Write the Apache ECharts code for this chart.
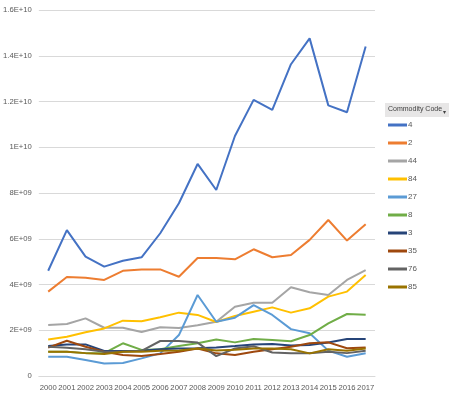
<!DOCTYPE html>
<html>
<head>
<meta charset="utf-8">
<script src="https://cdn.jsdelivr.net/npm/echarts@6/dist/echarts.min.js"></script>
<style>
  html, body { margin: 0; padding: 0; background: #fff; }
  #chart { width: 449px; height: 397px; }
</style>
</head>
<body>
<div id="chart"></div>
<script>
// years on the x axis
const years = ['2000', '2001', '2002', '2003', '2004', '2005', '2006', '2007', '2008',
  '2009', '2010', '2011', '2012', '2013', '2014', '2015', '2016', '2017']

// values in units of 1e9
const c4 = [4.60, 6.38, 5.22, 4.78, 5.04, 5.19, 6.24, 7.55, 9.27, 8.13, 10.49, 12.07, 11.63, 13.63, 14.76, 11.83, 11.53, 14.40]
const c2 = [3.69, 4.33, 4.30, 4.20, 4.60, 4.66, 4.66, 4.34, 5.16, 5.16, 5.10, 5.54, 5.19, 5.29, 5.95, 6.82, 5.92, 6.63]
const c44 = [2.23, 2.27, 2.52, 2.11, 2.11, 1.92, 2.13, 2.10, 2.22, 2.37, 3.03, 3.20, 3.20, 3.88, 3.66, 3.54, 4.20, 4.63]
const c84 = [1.60, 1.72, 1.91, 2.08, 2.42, 2.39, 2.57, 2.77, 2.67, 2.36, 2.62, 2.81, 3.00, 2.77, 2.96, 3.47, 3.69, 4.42]
const c27 = [0.84, 0.84, 0.70, 0.55, 0.57, 0.77, 0.99, 1.79, 3.54, 2.37, 2.55, 3.10, 2.67, 2.05, 1.87, 1.11, 0.84, 0.99]
const c8 = [1.06, 1.06, 1.00, 1.00, 1.43, 1.14, 1.17, 1.31, 1.43, 1.60, 1.47, 1.62, 1.57, 1.52, 1.79, 2.30, 2.71, 2.68]
const c3 = [1.31, 1.38, 1.38, 1.09, 1.09, 1.10, 1.17, 1.20, 1.21, 1.25, 1.31, 1.38, 1.40, 1.33, 1.36, 1.46, 1.62, 1.62]
const c35 = [1.24, 1.54, 1.28, 1.06, 0.92, 0.87, 0.96, 1.06, 1.20, 0.99, 0.92, 1.06, 1.17, 1.28, 1.43, 1.47, 1.21, 1.25]
const c76 = [1.28, 1.24, 1.17, 1.06, 1.06, 1.10, 1.53, 1.53, 1.46, 0.87, 1.20, 1.30, 1.03, 0.99, 0.99, 1.06, 1.00, 1.10]
const c85 = [1.06, 1.06, 1.00, 0.96, 1.06, 1.06, 1.10, 1.12, 1.20, 1.12, 1.15, 1.20, 1.20, 1.17, 0.99, 1.17, 1.10, 1.20]

const codes = ['4', '2', '44', '84', '27', '8', '3', '35', '76', '85']
const values = [c4, c2, c44, c84, c27, c8, c3, c35, c76, c85]
const colors = ['#4472C4', '#ED7D31', '#A5A5A5', '#FFC000', '#5B9BD5', '#70AD47', '#264478', '#9E480E', '#636363', '#997300']

// Excel style scientific labels: 2E+09, 1.2E+10 ...
function sci(v) {
  if (v === 0) return '0'
  const e = Math.floor(Math.log10(v) + 1e-9)
  const m = +(v / Math.pow(10, e)).toFixed(2)
  return m + 'E+' + (e < 10 ? '0' + e : e)
}

const font = 'Liberation Sans'
const chart = echarts.init(document.getElementById('chart'))

chart.setOption({
  animation: false,
  color: colors,
  grid: { left: 37, right: 74, top: 10, bottom: 21 },
  xAxis: {
    type: 'category',
    data: years,
    axisLine: { lineStyle: { color: '#d9d9d9' } },
    axisTick: { show: false },
    axisLabel: { interval: 0, color: '#595959', fontFamily: font, fontSize: 7.7, margin: 8 }
  },
  yAxis: {
    type: 'value',
    min: 0,
    max: 16e9,
    interval: 2e9,
    axisLine: { show: false },
    axisTick: { show: false },
    splitLine: { lineStyle: { color: '#d9d9d9' } },
    axisLabel: { color: '#595959', fontFamily: font, fontSize: 7.7, margin: 7, formatter: sci }
  },
  legend: {
    orient: 'vertical',
    left: 388,
    top: 119,
    padding: 0,
    icon: 'rect',
    itemWidth: 19,
    itemHeight: 3,
    itemGap: 6,
    data: codes,
    textStyle: { color: '#595959', fontFamily: font, fontSize: 8, lineHeight: 12, padding: [0, 0, 0, -4] }
  },
  graphic: [
    { type: 'rect', left: 385, top: 103, shape: { width: 64, height: 14 }, style: { fill: '#e7e6e6' } },
    { type: 'text', left: 388, top: 106, style: { text: 'Commodity Code', fill: '#404040', font: '7px "Liberation Sans"' } },
    { type: 'text', left: 443, top: 109, style: { text: '▾', fill: '#404040', font: '6px "DejaVu Sans"' } }
  ],
  series: codes.map((code, i) => ({
    name: code,
    type: 'line',
    data: values[i].map(v => v * 1e9),
    showSymbol: false,
    lineStyle: { width: 2 }
  }))
})
</script>
</body>
</html>
